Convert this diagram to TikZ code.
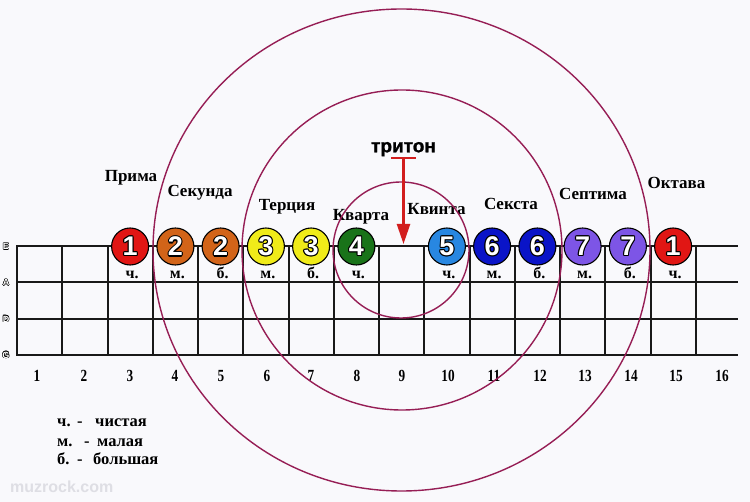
\documentclass[tikz,border=0pt]{standalone}
\usepackage{fontspec}
\setmainfont{Liberation Serif}
\newfontfamily\sansfam{Liberation Sans}
\newfontfamily\heavyfam{Liberation Sans}[FakeBold=1.2]
\newfontfamily\numfam{Liberation Serif}[FakeStretch=0.78]
\usetikzlibrary{arrows.meta}

\definecolor{bg}{RGB}{249,249,252}
\definecolor{ringc}{RGB}{150,30,85}
\definecolor{gridc}{RGB}{25,25,25}
\definecolor{cred}{RGB}{225,22,20}
\definecolor{corange}{RGB}{210,100,25}
\definecolor{cyellow}{RGB}{240,235,25}
\definecolor{cgreen}{RGB}{25,115,25}
\definecolor{clblue}{RGB}{40,135,225}
\definecolor{cblue}{RGB}{10,20,200}
\definecolor{cviolet}{RGB}{125,85,230}
\definecolor{arrowc}{RGB}{210,30,30}
\definecolor{wmark}{RGB}{222,222,228}

\newcommand\olsh[3]{\rlap{\kern#1\raisebox{#2}{\color{black}#3}}}
\newcommand\outl[3]{%
\olsh{#1}{0pt}{#3}\olsh{-#1}{0pt}{#3}\olsh{0pt}{#1}{#3}\olsh{0pt}{-#1}{#3}%
\olsh{#2}{#2}{#3}\olsh{-#2}{#2}{#3}\olsh{#2}{-#2}{#3}\olsh{-#2}{-#2}{#3}%
{\color{white}#3}}

\tikzset{
  gridline/.style={draw=gridc, line width=2pt},
  ring/.style={draw=ringc, line width=1.4pt},
  ball/.style={circle, draw=black, line width=1.1pt, minimum size=37pt, inner sep=0pt,
     font=\sansfam\bfseries\fontsize{27}{27}\selectfont},
  qual/.style={anchor=base, inner sep=0pt, font=\bfseries\fontsize{16}{16}\selectfont},
  iname/.style={anchor=base, inner sep=0pt, font=\bfseries\fontsize{17}{17}\selectfont},
  fretnum/.style={anchor=base, inner sep=0pt, font=\numfam\bfseries\fontsize{17}{17}\selectfont},
  legend/.style={anchor=base west, inner sep=0pt, font=\bfseries\fontsize{16.5}{16.5}\selectfont},
  strname/.style={inner sep=0pt, font=\sansfam\bfseries\fontsize{9}{9}\selectfont},
  redarrow/.style={draw=arrowc, line width=2.4pt, -{Triangle[length=20pt,width=13pt]}},
  redbar/.style={draw=arrowc, line width=2.4pt},
}

\begin{document}
\begin{tikzpicture}[x=1pt,y=-1pt]
\fill[bg] (0,0) rectangle (750,502);
\useasboundingbox (0,0) rectangle (750,502);

% grid
\foreach \xx in {17,62,108,153,198,243,289,334,379,424,470,515,560,605,651,696}
  \draw[gridline] (\xx,246) -- (\xx,355);
\foreach \y in {246,282,319,355} \draw[gridline] (16,\y) -- (738,\y);

% string names
\foreach \s/\y [count=\i] in {E/246.5,A/282.5,D/319,G/355}
  \node[strname] (s\i) at (6,\y) {\outl{0.5pt}{0.35pt}{\s}};

% fret numbers
\foreach \xx [count=\n] in {37,84,130,175,221,267,311,357,402,448,494,540,585,631,676,722}
  \node[fretnum] (f\n) at (\xx,382) {\n};

% interval names
\node[iname] (prima)   at (131,181.7) {Прима};
\node[iname] (sekunda) at (200,196.7) {Секунда};
\node[iname] (tercia)  at (287,210.7) {Терция};
\node[iname] (kvarta)  at (361,220.7) {Кварта};
\node[iname] (kvinta)  at (436.5,214.3) {Квинта};
\node[iname] (seksta)  at (511,209.3) {Секста};
\node[iname] (septima) at (593,199.3) {Септима};
\node[iname] (oktava)  at (676.5,189) {Октава};

% balls
\foreach \x/\n/\c/\q [count=\i] in {
  130.1/1/cred/ч., 175.4/2/corange/м., 220.6/2/corange/б.,
  265.9/3/cyellow/м., 311.1/3/cyellow/б., 356.4/4/cgreen/ч.,
  446.9/5/clblue/ч., 492.1/6/cblue/м., 537.4/6/cblue/б.,
  582.6/7/cviolet/м., 627.9/7/cviolet/б., 673.1/1/cred/ч.}{
  \node[ball, fill=\c] (b\i) at (\x,246.5) {\outl{1.1pt}{0.8pt}{\n}};
  \node[qual] (q\i) at (\x+2,279) {\q};
}

% rings
\draw[ring] (401.5,250) ellipse [x radius=248.5pt, y radius=241pt];
\draw[ring] (402,250) circle [radius=160pt];
\draw[ring] (401,250) circle [radius=68pt];

% tritone
\node[anchor=base, inner sep=0pt, font=\heavyfam\bfseries\fontsize{19}{19}\selectfont] (triton) at (403.5,152.3) {тритон};
\coordinate (barL) at (391,158);
\coordinate (barR) at (416,158);
\coordinate (barM) at (403.5,158);
\coordinate (tip) at (403.5,244);
\draw[redbar] (barL) -- (barR);
\draw[redarrow] (barM) -- (tip);

% legend
\node[legend] (l1a) at (57,427) {ч.};
\node[legend] (l1b) at (77,427) {-};
\node[legend] (l1c) at (95,427) {чистая};
\node[legend] (l2a) at (57,447) {м.};
\node[legend] (l2b) at (84,447) {-};
\node[legend] (l2c) at (97,447) {малая};
\node[legend] (l3a) at (57,465) {б.};
\node[legend] (l3b) at (77,465) {-};
\node[legend] (l3c) at (93,465) {большая};

% watermark
\node[anchor=base west, inner sep=0pt, text=wmark, font=\sansfam\bfseries\fontsize{16}{16}\selectfont] (wm) at (10,493) {muzrock.com};
\end{tikzpicture}
\end{document}
